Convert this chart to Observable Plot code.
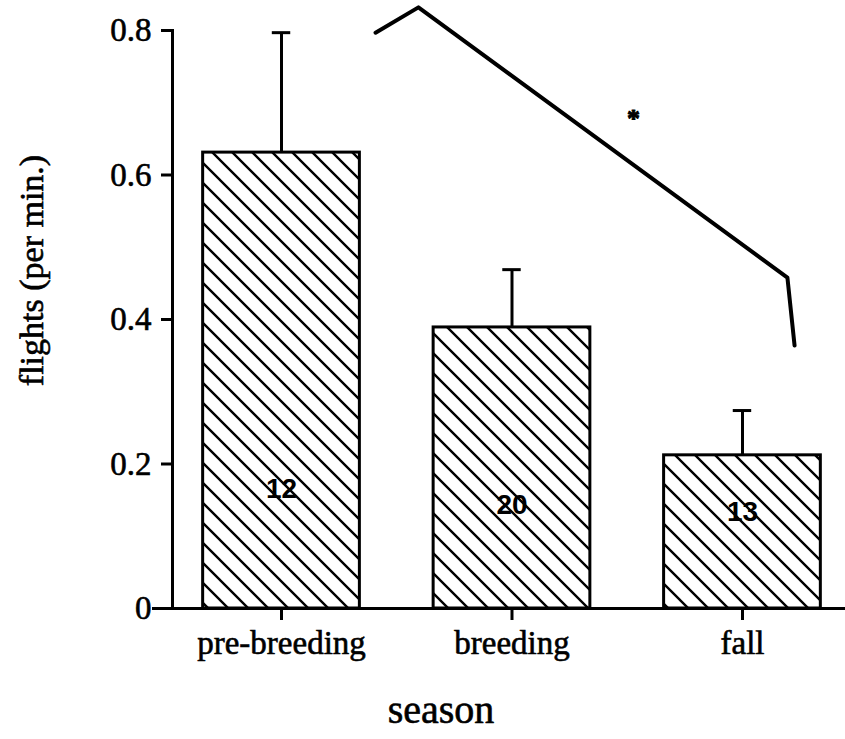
<!DOCTYPE html>
<html>
<head>
<meta charset="utf-8">
<script src="https://cdn.jsdelivr.net/npm/d3@7"></script>
<script src="https://cdn.jsdelivr.net/npm/@observablehq/plot@0.6"></script>
<style>
  html, body { margin: 0; padding: 0; background: #fff; }
</style>
</head>
<body>
<div id="chart"></div>
<script>
// ---- data ----
const seasons = ["pre-breeding", "breeding", "fall"];
const means = [0.631, 0.389, 0.212];
const sem = [0.166, 0.080, 0.062];
const sampleN = ["12", "20", "13"];
const nLabelY = [0.166, 0.143, 0.133];
const yTicks = [0, 0.2, 0.4, 0.6, 0.8];
const yTickLabels = ["0", "0.2", "0.4", "0.6", "0.8"];
// significance bracket (x in category-index units, y in flights/min)
const bracketX = [0.408, 0.594, 2.195, 2.226];
const bracketY = [0.797, 0.832, 0.458, 0.364];
const starX = [1.527];
const starY = [0.678];

const rows = seasons.map((s, i) => ({season: s, pos: i, mean: means[i], top: means[i] + sem[i], n: sampleN[i], ny: nLabelY[i]}));
const bracket = bracketX.map((x, i) => ({x, y: bracketY[i]}));
const stars = starX.map((x, i) => ({x, y: starY[i]}));

const half = 0.34;   // bar half width (index units)
const cap = 0.04;    // error cap half width
const serif = "Liberation Serif, Times New Roman, serif";

const chart = Plot.plot({
  width: 845,
  height: 739,
  marginTop: 30,
  marginBottom: 131,
  marginLeft: 172,
  marginRight: 0,
  style: {fontFamily: serif, color: "black", background: "white"},
  x: {domain: [-0.473, 2.447]},
  y: {domain: [0, 0.8]},
  marks: [
    Plot.rect(rows, {x1: d => d.pos - half, x2: d => d.pos + half, y1: 0, y2: "mean", fill: "url(#hatch)", stroke: "black", strokeWidth: 3}),
    Plot.ruleX(rows, {x: "pos", y1: "mean", y2: "top", stroke: "black", strokeWidth: 3}),
    Plot.ruleY(rows, {y: "top", x1: d => d.pos - cap, x2: d => d.pos + cap, stroke: "black", strokeWidth: 3}),
    Plot.text(rows, {x: "pos", y: "ny", text: "n", fontFamily: "Liberation Sans, Arial, sans-serif", fontSize: 28, fontWeight: "bold", fill: "black"}),
    Plot.line(bracket, {x: "x", y: "y", stroke: "black", strokeWidth: 4}),
    Plot.text(stars, {x: "x", y: "y", text: () => "*", fontSize: 26, fontWeight: "bold", fill: "black", stroke: "black", strokeWidth: 1}),
    Plot.frame({anchor: "left", stroke: "black", strokeWidth: 3}),
    Plot.ruleY([0], {stroke: "black", strokeWidth: 3}),
    Plot.ruleY([0], {stroke: "black", strokeWidth: 3, dx: -20}),
    Plot.axisY({ticks: yTicks, tickFormat: (d, i) => yTickLabels[i], tickSize: 11, tickPadding: 10, fontSize: 33, strokeWidth: 3, label: null}),
    Plot.axisX({ticks: rows.map(d => d.pos), tickFormat: (d, i) => seasons[i], tickSize: 12, tickPadding: 10, fontSize: 33, strokeWidth: 3, label: null}),
    Plot.text(["flights (per min.)"], {frameAnchor: "left", textAnchor: "middle", rotate: -90, dx: -140, dy: -49, fontSize: 34, fill: "black", stroke: "black", strokeWidth: 0.6}),
    Plot.text(["season"], {frameAnchor: "bottom", textAnchor: "middle", dx: -68, dy: 114, fontSize: 40, fill: "black", stroke: "black", strokeWidth: 0.6})
  ]
});

const svg = d3.select(chart);
// thicken tick label text slightly to mimic the scanned weight
svg.selectAll("[aria-label='y-axis tick label'] text, [aria-label='x-axis tick label'] text")
  .attr("stroke", "black").attr("stroke-width", 0.6);
const pat = svg.insert("defs", ":first-child")
  .append("pattern")
  .attr("id", "hatch")
  .attr("patternUnits", "userSpaceOnUse")
  .attr("width", 20)
  .attr("height", 20);
pat.append("rect").attr("width", 20).attr("height", 20).attr("fill", "white");
pat.append("path")
  .attr("d", "M-5,-5L25,25M-5,15L5,25M15,-5L25,5")
  .attr("stroke", "black")
  .attr("stroke-width", 2.4);

document.getElementById("chart").appendChild(chart);
</script>
</body>
</html>
